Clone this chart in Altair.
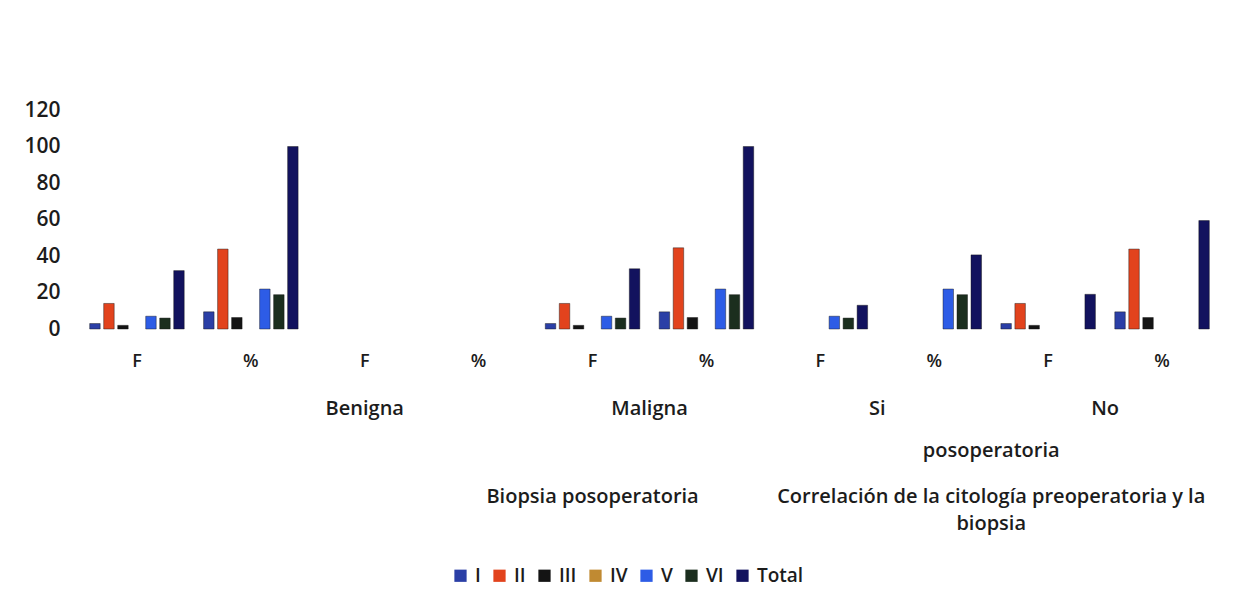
import altair as alt
import pandas as pd

# Series (cytology categories) and their colours
series = ["I", "II", "III", "IV", "V", "VI", "Total"]
colors = ["#2B3FA6", "#E2431D", "#141414", "#C08A32", "#2D5CE6", "#1B2E1E", "#12125E"]

# Bottom-level categories: frequency (F) and percentage (%) for each group
cat_keys = ["F1", "%1", "F2", "%2", "F3", "%3", "F4", "%4", "F5", "%5"]

# Values per category, in series order (I, II, III, IV, V, VI, Total)
benigna_f = [3, 14, 2, 0, 7, 6, 32]
benigna_pct = [9.4, 43.8, 6.3, 0, 21.9, 18.8, 100]
vacio_f = [0, 0, 0, 0, 0, 0, 0]
vacio_pct = [0, 0, 0, 0, 0, 0, 0]
maligna_f = [3, 14, 2, 0, 7, 6, 33]
maligna_pct = [9.4, 44.5, 6.3, 0, 21.9, 18.8, 100]
si_f = [0, 0, 0, 0, 7, 6, 13]
si_pct = [0, 0, 0, 0, 21.9, 18.8, 40.6]
no_f = [3, 14, 2, 0, 0, 0, 19]
no_pct = [9.4, 43.8, 6.3, 0, 0, 0, 59.4]

columns = [benigna_f, benigna_pct, vacio_f, vacio_pct, maligna_f, maligna_pct,
           si_f, si_pct, no_f, no_pct]

rows = []
for key, vals in zip(cat_keys, columns):
    for s, v in zip(series, vals):
        if v > 0:
            rows.append({"cat": key, "serie": s, "valor": v})
df = pd.DataFrame(rows)

# Group labels below the F / % axis (position in category units)
nivel2 = pd.DataFrame({"texto": ["Benigna", "Maligna", "Si", "No"],
                       "pos": [2.5, 5.0, 7.0, 9.0]})
linea_poso = pd.DataFrame({"texto": ["posoperatoria"], "pos": [8.0]})
nivel3 = pd.DataFrame({"texto": ["Biopsia posoperatoria",
                                 "Correlación de la citología preoperatoria y la"],
                       "pos": [4.5, 8.0]})
linea_biopsia = pd.DataFrame({"texto": ["biopsia"], "pos": [8.0]})

FONT = "Open Sans"
TXT = "#1c1c1c"
W, H = 1139, 219

bars = alt.Chart(df).mark_bar(stroke="#151515", strokeWidth=0.8, strokeOpacity=0.55).encode(
    x=alt.X("cat:N", sort=cat_keys,
            scale=alt.Scale(domain=cat_keys, paddingInner=0.17, paddingOuter=0.085),
            axis=alt.Axis(title=None, labelExpr="substring(datum.label, 0, 1)",
                          labelAngle=0, domain=False, ticks=False, labelPadding=23,
                          labelFontSize=18, labelFont=FONT, labelFontWeight=600,
                          labelColor=TXT)),
    xOffset=alt.XOffset("serie:N", scale=alt.Scale(domain=series, paddingInner=0.25)),
    y=alt.Y("valor:Q", scale=alt.Scale(domain=[0, 120]),
            axis=alt.Axis(title=None, values=[0, 20, 40, 60, 80, 100, 120], grid=False,
                          domain=False, ticks=False, labelPadding=20, labelFontSize=21,
                          labelFont=FONT, labelFontWeight=600, labelColor=TXT)),
    color=alt.Color("serie:N", scale=alt.Scale(domain=series, range=colors),
                    legend=alt.Legend(title=None, orient="none", direction="horizontal",
                                      legendX=371, legendY=456, symbolType="square",
                                      symbolSize=150, symbolStrokeWidth=0,
                                      labelFontSize=19, labelFont=FONT,
                                      labelFontWeight=600, labelColor=TXT,
                                      labelOffset=5, columnPadding=9)),
)


def etiquetas(data, ypix):
    return alt.Chart(data).mark_text(font=FONT, fontSize=20, fontWeight=600,
                                     color=TXT, baseline="middle").encode(
        x=alt.X("pos:Q", scale=alt.Scale(domain=[0, 10]), axis=None),
        y=alt.value(ypix),
        text="texto:N",
    )


chart = alt.layer(
    bars,
    etiquetas(nivel2, 299),
    etiquetas(linea_poso, 341),
    etiquetas(nivel3, 387),
    etiquetas(linea_biopsia, 414),
).resolve_scale(x="independent").properties(
    width=W, height=H,
    autosize=alt.AutoSizeParams(type="none"),
    padding={"left": 80, "top": 110, "right": 33, "bottom": 260},
    background="white",
).configure_view(stroke=None)

chart.save("out.html", embed_options={"renderer": "svg", "actions": False})
